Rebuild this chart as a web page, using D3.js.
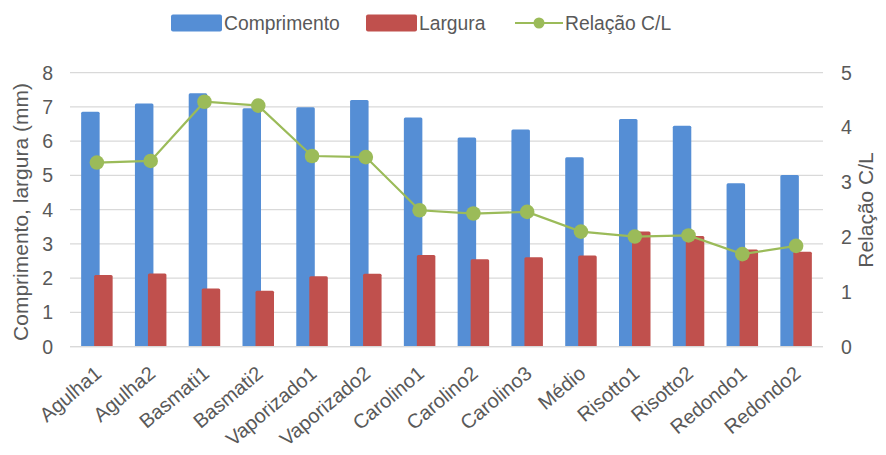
<!DOCTYPE html>
<html><head><meta charset="utf-8">
<script src="https://cdn.jsdelivr.net/npm/d3@7"></script>
<style>body{margin:0;background:#fff}svg{display:block}text{font-family:"Liberation Sans",Arial,sans-serif;fill:#595959}</style>
</head><body>
<svg id="c" width="886" height="455"></svg>
<script>
const categories = ["Agulha1","Agulha2","Basmati1","Basmati2","Vaporizado1","Vaporizado2","Carolino1","Carolino2","Carolino3","Médio","Risotto1","Risotto2","Redondo1","Redondo2"];
const comprimento = [6.86,7.10,7.40,6.96,6.99,7.20,6.69,6.11,6.34,5.53,6.65,6.45,4.77,5.01];
const largura = [2.09,2.14,1.70,1.63,2.06,2.13,2.68,2.55,2.61,2.66,3.36,3.23,2.84,2.77];
const relacao = [3.36,3.39,4.47,4.40,3.48,3.46,2.49,2.43,2.46,2.10,2.01,2.03,1.69,1.84];
const leftTicks = [0,1,2,3,4,5,6,7,8];
const rightTicks = [0,1,2,3,4,5];

const svg = d3.select("#c");
const L = 70, R = 823, T = 72.7, B = 346.7;
const x = d3.scaleBand().domain(categories).range([L, R]);
const yL = d3.scaleLinear().domain([0, 8]).range([B, T]);
const yR = d3.scaleLinear().domain([0, 5]).range([B, T]);
const blue = "#558ED5", red = "#C0504D", green = "#9BBB59";

// gridlines
svg.append("g").selectAll("line").data(leftTicks).join("line")
  .attr("x1", L).attr("x2", R).attr("y1", d => yL(d)).attr("y2", d => yL(d))
  .attr("stroke", "#D9D9D9").attr("stroke-width", 1.3);

const bw = 18.5, off = 6.5;
svg.append("g").selectAll("rect").data(categories).join("rect")
  .attr("x", d => x(d) + x.bandwidth()/2 - off - bw/2)
  .attr("y", (d,i) => yL(comprimento[i]))
  .attr("width", bw).attr("height", (d,i) => B - yL(comprimento[i]))
  .attr("rx", 1.5).attr("fill", blue);
svg.append("g").selectAll("rect").data(categories).join("rect")
  .attr("x", d => x(d) + x.bandwidth()/2 + off - bw/2)
  .attr("y", (d,i) => yL(largura[i]))
  .attr("width", bw).attr("height", (d,i) => B - yL(largura[i]))
  .attr("rx", 1.5).attr("fill", red);

// base axis line
svg.append("line").attr("x1", L).attr("x2", R).attr("y1", B).attr("y2", B)
  .attr("stroke", "#D9D9D9").attr("stroke-width", 1.3);

const line = d3.line().x((d,i) => x(categories[i]) + x.bandwidth()/2).y(d => yR(d));
svg.append("path").datum(relacao).attr("d", line).attr("fill", "none")
  .attr("stroke", green).attr("stroke-width", 2.2);
svg.append("g").selectAll("circle").data(relacao).join("circle")
  .attr("cx", (d,i) => x(categories[i]) + x.bandwidth()/2).attr("cy", d => yR(d))
  .attr("r", 7.3).attr("fill", green);

// left ticks
svg.append("g").selectAll("text").data(leftTicks).join("text")
  .attr("x", 53).attr("y", d => yL(d)).attr("dy", "0.35em").attr("text-anchor", "end")
  .attr("font-size", 19.5).text(d => d);
// right ticks
svg.append("g").selectAll("text").data(rightTicks).join("text")
  .attr("x", 841).attr("y", d => yR(d)).attr("dy", "0.35em").attr("text-anchor", "start")
  .attr("font-size", 19.5).text(d => d);

// axis titles
svg.append("text").attr("transform", "translate(28,212) rotate(-90)").attr("text-anchor", "middle")
  .attr("font-size", 21).text("Comprimento, largura (mm)");
svg.append("text").attr("transform", "translate(873,210) rotate(-90)").attr("text-anchor", "middle")
  .attr("font-size", 21).text("Relação C/L");

// x labels
svg.append("g").selectAll("text").data(categories).join("text")
  .attr("transform", d => `translate(${x(d) + x.bandwidth()/2 + 6},${B + 29}) rotate(-40)`)
  .attr("text-anchor", "end")
  .attr("font-size", 20).text(d => d);

// legend
const lg = svg.append("g");
lg.append("rect").attr("x", 171).attr("y", 14.5).attr("width", 51).attr("height", 17).attr("rx", 2).attr("fill", blue);
lg.append("text").attr("x", 224).attr("y", 23).attr("dy", "0.35em").attr("font-size", 19.3).text("Comprimento");
lg.append("rect").attr("x", 366).attr("y", 14.5).attr("width", 51).attr("height", 17).attr("rx", 2).attr("fill", red);
lg.append("text").attr("x", 419).attr("y", 23).attr("dy", "0.35em").attr("font-size", 19.3).text("Largura");
lg.append("line").attr("x1", 515).attr("x2", 563).attr("y1", 23).attr("y2", 23).attr("stroke", green).attr("stroke-width", 2.2);
lg.append("circle").attr("cx", 539).attr("cy", 23).attr("r", 5.5).attr("fill", green);
lg.append("text").attr("x", 565).attr("y", 23).attr("dy", "0.35em").attr("font-size", 19.3).text("Relação C/L");
</script>
</body></html>
